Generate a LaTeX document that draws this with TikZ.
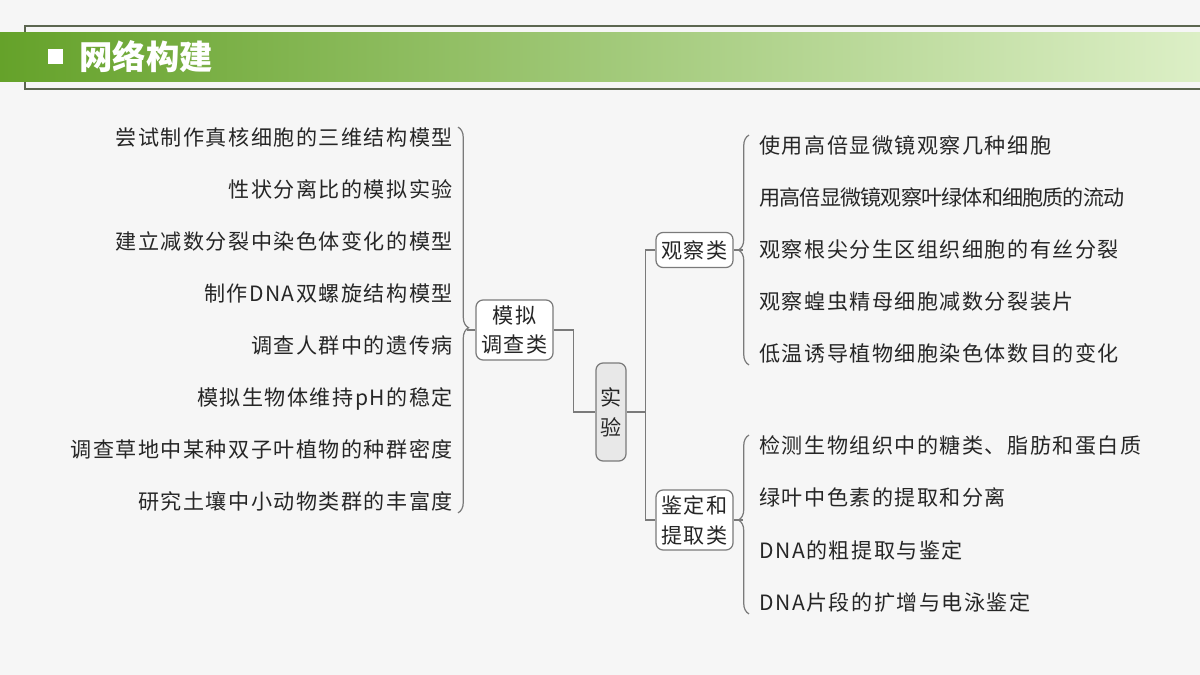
\documentclass[tikz,border=0pt]{standalone}
\usepackage{fontspec}
\setmainfont{Noto Sans CJK SC}
\newfontfamily\cjk[LetterSpace=7]{Noto Sans CJK SC}
\newfontfamily\cjktight[LetterSpace=-4]{Noto Sans CJK SC}
\usetikzlibrary{positioning, decorations.pathreplacing}
\definecolor{linegray}{HTML}{7A7A7A}
\definecolor{bgpaper}{HTML}{F6F6F6}
\definecolor{banddark}{HTML}{65A22A}
\definecolor{bandmid}{HTML}{A9D872}
\definecolor{bandlight}{HTML}{DCEFC6}
\definecolor{framegray}{HTML}{5C6650}

\begin{document}
\begin{tikzpicture}[
            x=0.02cm, y=-0.02cm,
            every node/.style={font=\cjk\fontsize{12}{17}\selectfont, text=black!85},
            item/.style={inner sep=0pt, text height=10pt, text depth=2pt},
            leftitem/.style={item, anchor=east},
            rightitem/.style={item, anchor=west},
            box/.style={
                draw=linegray,
                rounded corners=4pt,
                fill=white,
                line width=0.7pt,
                align=center,
                minimum width=1.54cm,
                inner sep=2pt
            },
            rootbox/.style={box, fill=gray!18, minimum width=0.6cm, minimum height=1.96cm},
            link/.style={draw=linegray, line width=0.7pt},
            bracegrp/.style={link, decorate, decoration={brace, amplitude=6pt, aspect=#1}}
        ]
        
        % Page and header
        \useasboundingbox (0,0) rectangle (1200,675);
        \fill[bgpaper] (0,0) rectangle (1200,675);
        \draw[framegray, line width=0.6pt] (1200,26) -- (25,26) -- (25,89) -- (1200,89);
        \shade[left color=banddark, middle color=bandmid, right color=bandlight] (0,33) rectangle (1200,82);
        \fill[white] (48,49) rectangle (63,64);
        \node[anchor=west, inner sep=0pt, text=white, font=\bfseries\fontsize{19}{20}\selectfont] (title) at (79,57) {网络构建};
        
        % Centre
        \node[rootbox] (sy) at (611,412) {实\\验};
        \node[box, minimum height=1.2cm] (mn) at (514.5,330) {模拟\\调查类};
        \node[box, minimum height=0.7cm] (gc) at (694.5,250) {观察类};
        \node[box, minimum height=1.2cm] (jd) at (694.5,520) {鉴定和\\提取类};
        
        % Left list
        \node[leftitem] (l1) at (453,138) {尝试制作真核细胞的三维结构模型};
        \node[leftitem] (l2) at (453,190) {性状分离比的模拟实验};
        \node[leftitem] (l3) at (453,242) {建立减数分裂中染色体变化的模型};
        \node[leftitem] (l4) at (453,294) {制作DNA双螺旋结构模型};
        \node[leftitem] (l5) at (453,346) {调查人群中的遗传病};
        \node[leftitem] (l6) at (453,398) {模拟生物体维持pH的稳定};
        \node[leftitem] (l7) at (453,450) {调查草地中某种双子叶植物的种群密度};
        \node[leftitem] (l8) at (453,502) {研究土壤中小动物类群的丰富度};
        
        % Right list, observation
        \node[rightitem] (r1) at (759,146) {使用高倍显微镜观察几种细胞};
        \node[rightitem, font=\cjktight\fontsize{12}{17}\selectfont] (r2) at (759,198) {用高倍显微镜观察叶绿体和细胞质的流动};
        \node[rightitem] (r3) at (759,250) {观察根尖分生区组织细胞的有丝分裂};
        \node[rightitem] (r4) at (759,302) {观察蝗虫精母细胞减数分裂装片};
        \node[rightitem] (r5) at (759,354) {低温诱导植物细胞染色体数目的变化};
        
        % Right list, identification
        \node[rightitem] (r6) at (759,446) {检测生物组织中的糖类、脂肪和蛋白质};
        \node[rightitem] (r7) at (759,498) {绿叶中色素的提取和分离};
        \node[rightitem] (r8) at (759,551) {DNA的粗提取与鉴定};
        \node[rightitem] (r9) at (759,603) {DNA片段的扩增与电泳鉴定};
        
        % Braces
        \draw[bracegrp=0.52] ([xshift=0.1cm]l1.north east) -- ([xshift=0.1cm]l8.south east);
        \draw[link] (mn.west) -- ++(-8,0);
        \draw[bracegrp=0.5] ([xshift=-0.2cm]r5.south west) -- ([xshift=-0.2cm]r1.north west);
        \draw[link] (gc.east) -- ++(9,0);
        \draw[bracegrp=0.525] ([xshift=-0.2cm]r9.south west) -- ([xshift=-0.2cm]r6.north west);
        \draw[link] (jd.east) -- ++(9,0);
        
        % Tree lines
        \draw[link] (mn.east) -- ++(20,0) |- (sy.west);
        \coordinate (hub) at ([xshift=0.38cm]sy.east);
        \draw[link] (sy.east) -- (hub);
        \draw[link] (gc.west) -| (hub) |- (jd.west);
        
        \end{tikzpicture}
\end{document}
